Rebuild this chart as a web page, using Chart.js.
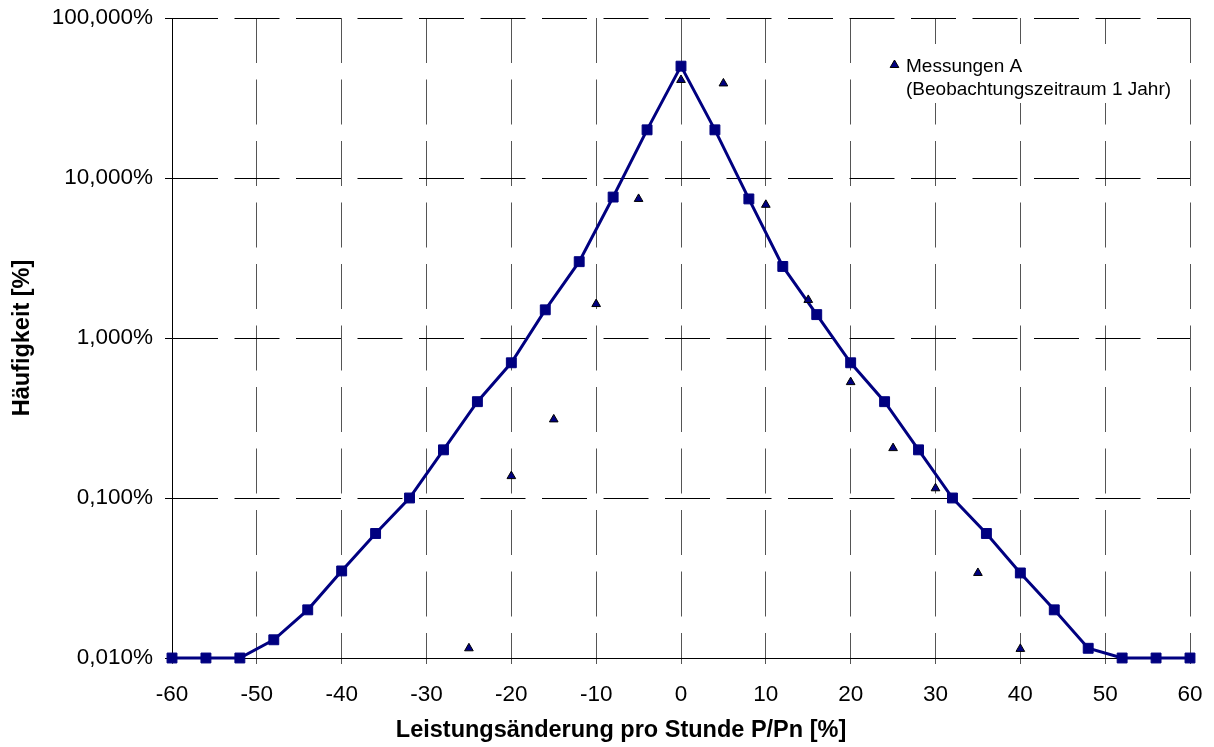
<!DOCTYPE html>
<html><head><meta charset="utf-8">
<script src="https://cdn.jsdelivr.net/npm/chart.js@4.4.1/dist/chart.umd.min.js"></script>
<style>html,body{margin:0;padding:0;background:#fff}#wrap{width:1214px;height:747px;position:relative}</style>
</head><body><div id="wrap"><canvas id="c" width="1214" height="747"></canvas></div>
<script>
// ---- data ----
const modelX = [-60,-56,-52,-48,-44,-40,-36,-32,-28,-24,-20,-16,-12,-8,-4,0,4,8,12,16,20,24,28,32,36,40,44,48,52,56,60];
const modelY = [0.01,0.01,0.01,0.013,0.02,0.035,0.06,0.1,0.2,0.4,0.7,1.5,3.0,7.6,20,50,20,7.4,2.8,1.4,0.7,0.4,0.2,0.1,0.06,0.034,0.02,0.0115,0.01,0.01,0.01];
const measX = [-25,-20,-15,-10,-5,0,5,10,15,20,25,30,35,40];
const measY = [0.0115,0.137,0.31,1.63,7.4,41,39,6.8,1.73,0.53,0.205,0.115,0.034,0.0114];
const yTicks = [0.01,0.1,1,10,100];
const xTickStep = 10;
const measLabel = ['Messungen A','(Beobachtungszeitraum 1 Jahr)'];
const xTitle = 'Leistungsänderung pro Stunde P/Pn [%]';
const yTitle = 'Häufigkeit [%]';

const NAVY = '#000080';
const FONT = '"Liberation Sans", Arial, sans-serif';

const overlay = {
  id: 'overlay',
  afterDraw(chart) {
    const ctx = chart.ctx, ca = chart.chartArea;
    ctx.save();
    // legend box (white, hides grid)
    const lx = ca.right - 308, ly = ca.top + 26;
    ctx.fillStyle = '#fff';
    ctx.fillRect(lx, ly, 300, 59);
    ctx.fillStyle = NAVY; ctx.strokeStyle = '#000';
    ctx.lineWidth = 1;
    Chart.helpers.drawPoint(ctx, {pointStyle: 'triangle', radius: 5, borderWidth: 1, rotation: 0}, lx + 12.5, ly + 21);
    ctx.fillStyle = '#000';
    ctx.font = '19px ' + FONT;
    ctx.textAlign = 'left'; ctx.textBaseline = 'alphabetic';
    ctx.fillText(measLabel[0], lx + 24, ly + 28);
    ctx.fillText(measLabel[1], lx + 24, ly + 51);
    // axis titles
    ctx.font = 'bold 23.5px ' + FONT;
    ctx.textAlign = 'center';
    ctx.fillText(xTitle, 621, 737);
    ctx.translate(23, (ca.top + ca.bottom) / 2);
    ctx.rotate(-Math.PI / 2);
    ctx.textBaseline = 'middle';
    ctx.fillText(yTitle, 0, 0);
    ctx.restore();
  }
};

new Chart(document.getElementById('c'), {
  type: 'line',
  data: {
    datasets: [
      {
        label: 'Modell',
        data: modelX.map((x, i) => ({x, y: modelY[i]})),
        borderColor: NAVY, backgroundColor: NAVY,
        borderWidth: 3, pointStyle: 'rect', pointRadius: 7,
        pointBorderWidth: 1, pointBorderColor: NAVY, pointBackgroundColor: NAVY,
        tension: 0, clip: false, order: 2
      },
      {
        label: measLabel.join(' '),
        data: measX.map((x, i) => ({x, y: measY[i]})),
        showLine: false, pointStyle: 'triangle', pointRadius: 5,
        pointBackgroundColor: NAVY, pointBorderColor: '#000', pointBorderWidth: 1,
        clip: false, order: 1
      }
    ]
  },
  options: {
    responsive: false, animation: false, devicePixelRatio: 1,
    layout: {padding: {top: 18, right: 24, left: 0, bottom: 0}},
    plugins: {legend: {display: false}, tooltip: {enabled: false}},
    scales: {
      x: {
        type: 'linear', min: -60, max: 60,
        ticks: {stepSize: xTickStep, color: '#000', font: {size: 22.5, family: FONT}, padding: 17, maxRotation: 0,
          callback: v => String(v)},
        grid: {color: '#555', lineWidth: 1, tickLength: 6, drawTicks: true},
        border: {display: true, color: '#000', width: 1, dash: [45, 16.5]},
        afterFit: s => { s.height = 89; s.paddingLeft = 0; s.paddingRight = 0; }
      },
      y: {
        type: 'logarithmic', min: 0.01, max: 100,
        afterBuildTicks: s => { s.ticks = yTicks.map(v => ({value: v, major: true})); },
        ticks: {color: '#000', font: {size: 22.5, family: FONT}, padding: 12, autoSkip: false,
          callback: v => v.toFixed(3).replace('.', ',') + '%'},
        grid: {color: '#000', lineWidth: 1, tickLength: 7, drawTicks: true},
        border: {display: true, color: '#000', width: 1, dash: [45, 16.5]},
        afterFit: s => { s.width = 172; s.paddingTop = 0; s.paddingBottom = 0; }
      }
    }
  },
  plugins: [overlay]
});
</script></body></html>
